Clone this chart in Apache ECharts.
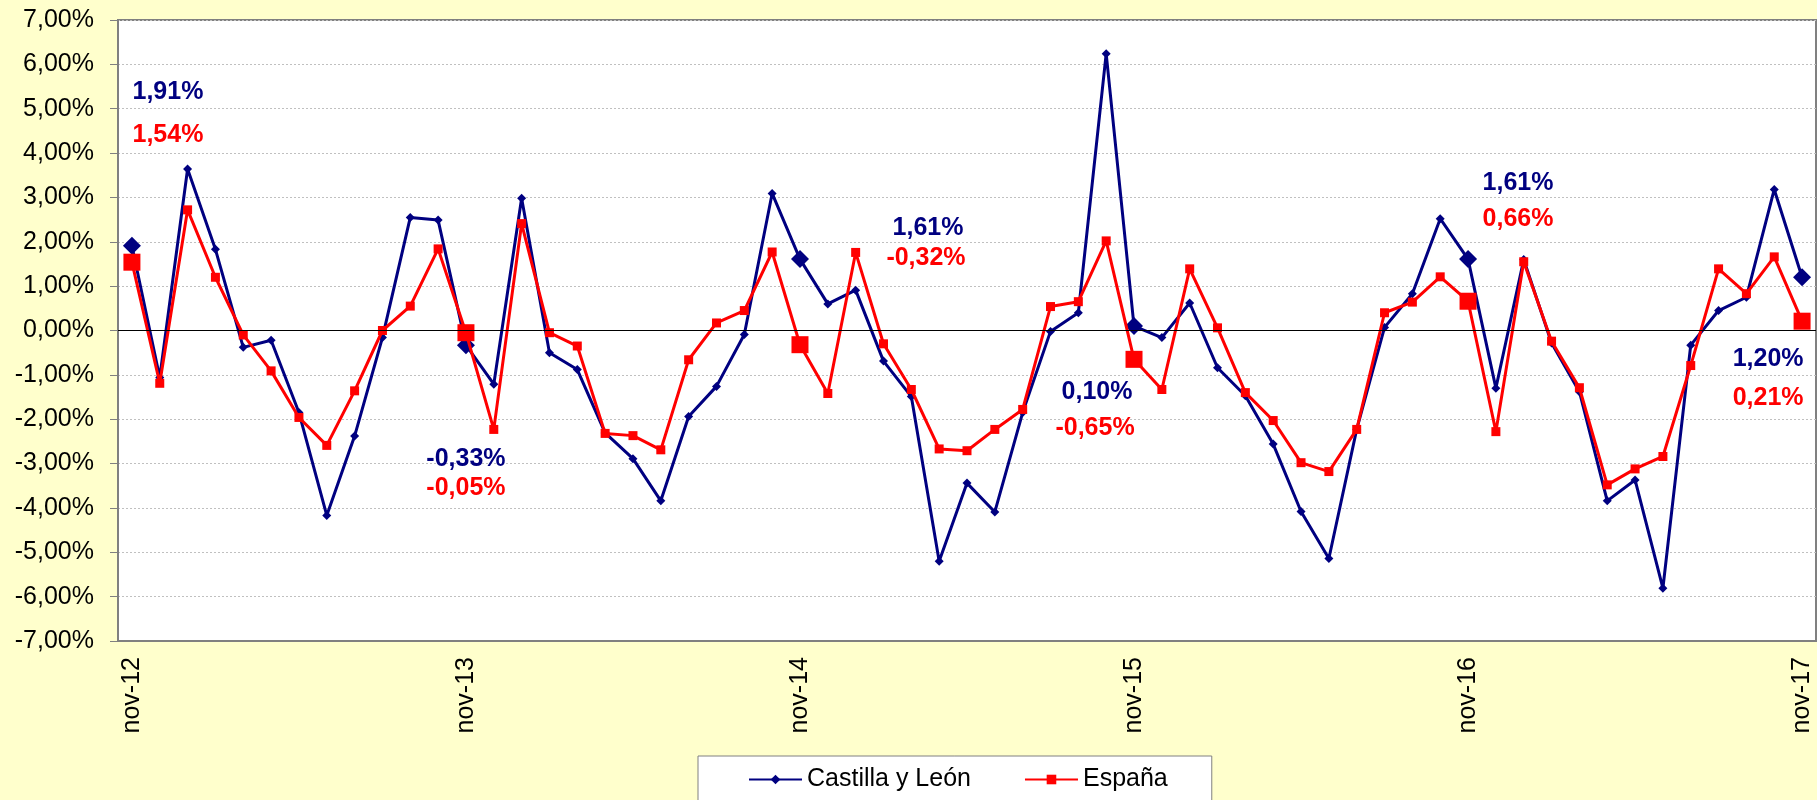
<!DOCTYPE html>
<html>
<head>
<meta charset="utf-8">
<script src="https://cdn.jsdelivr.net/npm/echarts@6/dist/echarts.min.js"></script>
<style>
  html, body { margin: 0; padding: 0; background: #FFFFCC; }
  #chart { width: 1817px; height: 800px; }
</style>
</head>
<body>
<div id="chart"></div>
<script>
// meses (nov-12 .. nov-17)
const categories = [
  'nov-12', 'dic-12',
  'ene-13', 'feb-13', 'mar-13', 'abr-13', 'may-13', 'jun-13', 'jul-13', 'ago-13', 'sep-13', 'oct-13', 'nov-13', 'dic-13',
  'ene-14', 'feb-14', 'mar-14', 'abr-14', 'may-14', 'jun-14', 'jul-14', 'ago-14', 'sep-14', 'oct-14', 'nov-14', 'dic-14',
  'ene-15', 'feb-15', 'mar-15', 'abr-15', 'may-15', 'jun-15', 'jul-15', 'ago-15', 'sep-15', 'oct-15', 'nov-15', 'dic-15',
  'ene-16', 'feb-16', 'mar-16', 'abr-16', 'may-16', 'jun-16', 'jul-16', 'ago-16', 'sep-16', 'oct-16', 'nov-16', 'dic-16',
  'ene-17', 'feb-17', 'mar-17', 'abr-17', 'may-17', 'jun-17', 'jul-17', 'ago-17', 'sep-17', 'oct-17', 'nov-17'
];

const castillaLeon = [
  1.91, -1.06, 3.64, 1.83, -0.38, -0.22, -1.85, -4.17, -2.38, -0.16, 2.55, 2.49,
  -0.33, -1.21, 2.98, -0.50, -0.88, -2.31, -2.89, -3.84, -1.94, -1.26, -0.09, 3.09,
  1.61, 0.60, 0.91, -0.69, -1.49, -5.20, -3.44, -4.09, -1.85, -0.02, 0.40, 6.24,
  0.10, -0.16, 0.62, -0.84, -1.47, -2.56, -4.08, -5.14, -2.23, 0.07, 0.83, 2.52,
  1.61, -1.30, 1.60, -0.28, -1.38, -3.84, -3.37, -5.81, -0.33, 0.45, 0.75, 3.18,
  1.20
];

const espana = [
  1.54, -1.19, 2.72, 1.20, -0.10, -0.91, -1.96, -2.59, -1.36, 0.00, 0.55, 1.84,
  -0.05, -2.23, 2.41, -0.05, -0.35, -2.32, -2.37, -2.69, -0.66, 0.17, 0.45, 1.77,
  -0.32, -1.42, 1.76, -0.30, -1.33, -2.67, -2.71, -2.23, -1.78, 0.54, 0.65, 2.02,
  -0.65, -1.33, 1.39, 0.06, -1.40, -2.03, -2.98, -3.18, -2.23, 0.40, 0.64, 1.21,
  0.66, -2.28, 1.55, -0.24, -1.29, -3.48, -3.12, -2.84, -0.79, 1.39, 0.83, 1.66,
  0.21
];

const legendNames = ['Castilla y León', 'España'];

// desplazamiento de las etiquetas de noviembre respecto al punto
const labelOffsetCyl = { 0: [36, -154], 12: [0, 114], 24: [128, -31], 36: [-37, 66], 48: [50, -76], 60: [-34, 82] };
const labelOffsetEsp = { 0: [36, -127], 12: [0, 155], 24: [126, -87], 36: [-39, 69], 48: [50, -82], 60: [-34, 77] };

const fmtPct = v => v.toFixed(2).replace('.', ',') + '%';

function buildData(values, offsets, color, bigSize) {
  return values.map((v, i) => {
    if (!(i in offsets)) return v;
    return {
      value: v,
      symbolSize: bigSize,
      label: {
        show: true,
        position: 'inside',
        offset: offsets[i],
        align: 'center',
        verticalAlign: 'middle',
        color: color,
        fontFamily: 'Liberation Sans',
        fontWeight: 'bold',
        fontSize: 25,
        formatter: p => fmtPct(p.value)
      }
    };
  });
}

const chart = echarts.init(document.getElementById('chart'));
chart.setOption({
  backgroundColor: '#FFFFCC',
  animation: false,
  textStyle: { fontFamily: 'Liberation Sans' },
  grid: {
    left: 118,
    right: 1,
    top: 20,
    height: 621,
    show: true,
    backgroundColor: '#FFFFFF',
    borderColor: '#808080',
    borderWidth: 2
  },
  legend: {
    data: legendNames,
    left: 698,
    top: 756,
    padding: [11, 44, 40, 50],
    itemWidth: 53,
    itemHeight: 12,
    itemGap: 53,
    backgroundColor: '#FFFFFF',
    borderColor: '#808080',
    borderWidth: 1,
    textStyle: { fontSize: 25, color: '#000', fontFamily: 'Liberation Sans' }
  },
  xAxis: {
    type: 'category',
    data: categories,
    boundaryGap: true,
    axisLine: { onZero: false, lineStyle: { color: '#808080', width: 2 } },
    axisTick: { show: false },
    axisLabel: {
      interval: 11,
      rotate: 90,
      margin: 16,
      fontSize: 25,
      color: '#000',
      fontFamily: 'Liberation Sans'
    },
    splitLine: { show: false }
  },
  yAxis: {
    type: 'value',
    min: -7,
    max: 7,
    interval: 1,
    axisLine: { show: true, lineStyle: { color: '#808080', width: 2 } },
    axisTick: { show: true, length: 8, lineStyle: { color: '#808080', width: 1 } },
    axisLabel: {
      margin: 24,
      fontSize: 25,
      color: '#000',
      fontFamily: 'Liberation Sans',
      formatter: v => fmtPct(v)
    },
    splitLine: { show: true, lineStyle: { color: '#C0C0C0', width: 1, type: [2, 2] } }
  },
  series: [
    {
      name: legendNames[0],
      type: 'line',
      data: buildData(castillaLeon, labelOffsetCyl, '#000080', 18),
      symbol: 'diamond',
      symbolSize: 9,
      color: '#000080',
      lineStyle: { color: '#000080', width: 3 },
      itemStyle: { color: '#000080' },
      markLine: {
        silent: true,
        symbol: 'none',
        label: { show: false },
        lineStyle: { color: '#000000', width: 1, type: 'solid' },
        data: [{ yAxis: 0 }]
      },
      z: 3
    },
    {
      name: legendNames[1],
      type: 'line',
      data: buildData(espana, labelOffsetEsp, '#FF0000', 17),
      symbol: 'rect',
      symbolSize: 9,
      color: '#FF0000',
      lineStyle: { color: '#FF0000', width: 3 },
      itemStyle: { color: '#FF0000' },
      z: 4
    }
  ]
});
</script>
</body>
</html>
